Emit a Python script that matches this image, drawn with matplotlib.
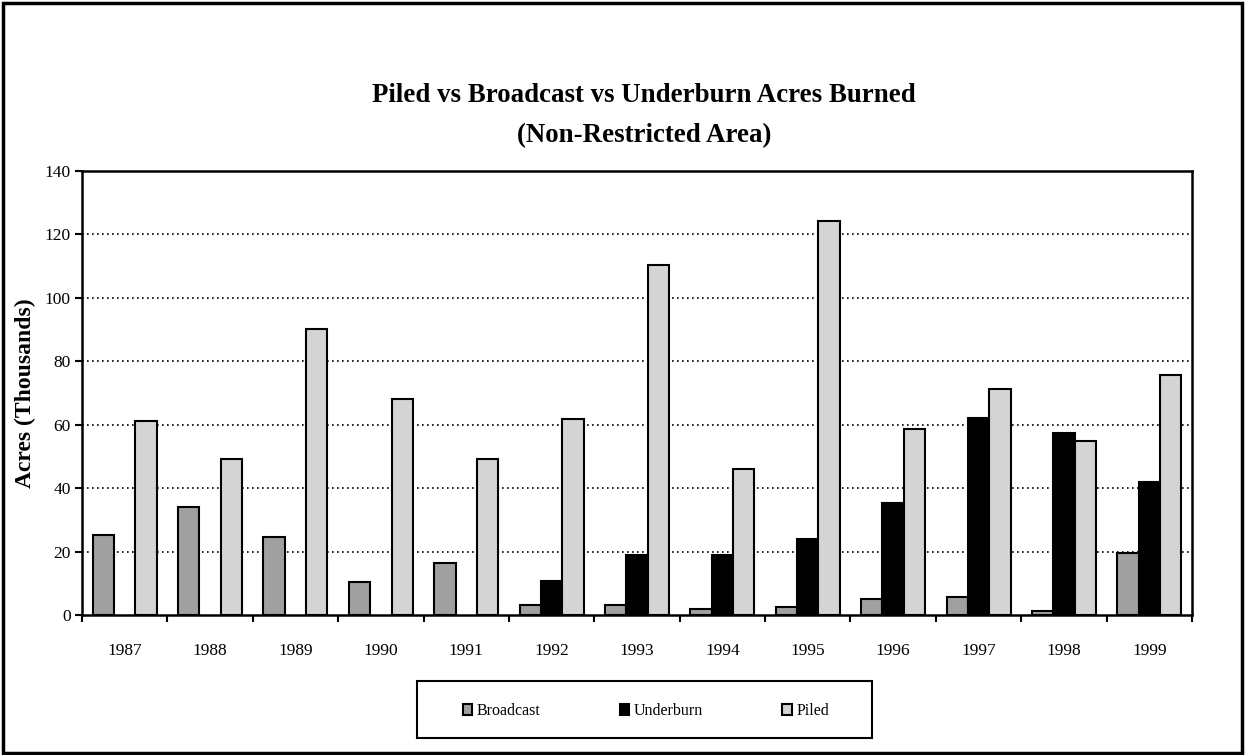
import matplotlib
matplotlib.use("Agg")
import matplotlib.pyplot as plt
import numpy as np
from matplotlib.patches import Rectangle

years = ["1987", "1988", "1989", "1990", "1991", "1992", "1993",
         "1994", "1995", "1996", "1997", "1998", "1999"]
broadcast = [25.1, 34.0, 24.5, 10.5, 16.3, 3.2, 3.2, 1.9, 2.5, 4.9, 5.6, 1.2, 19.5]
underburn = [0, 0, 0, 0, 0, 10.7, 19.0, 19.0, 24.1, 35.4, 62.0, 57.4, 41.8]
piled = [61.1, 49.1, 90.1, 68.1, 49.1, 61.8, 110.3, 46.0, 124.2, 58.7, 71.2, 54.8, 75.6]

series = [
    ("Broadcast", broadcast, "#a0a0a0"),
    ("Underburn", underburn, "#000000"),
    ("Piled", piled, "#d4d4d4"),
]

plt.rcParams["font.family"] = ["Liberation Serif", "DejaVu Serif"]

W, H = 1245, 755
fig = plt.figure(figsize=(W / 100, H / 100), dpi=100)
ax = fig.add_axes([82 / W, 1 - 615 / H, (1192 - 82) / W, (615 - 171) / H])

x = np.arange(len(years))
width = 0.25
for i, (name, vals, color) in enumerate(series):
    vals = np.array(vals, dtype=float)
    # skip zero bars so they don't leave an outline on the axis
    mask = vals > 0
    ax.bar(x[mask] + (i - 1) * width, vals[mask], width, color=color,
           edgecolor="black", linewidth=1.5, label=name, zorder=3)

ax.set_xlim(-0.5, len(years) - 0.5)
ax.set_ylim(0, 140)
ax.set_yticks(np.arange(0, 141, 20))
ax.tick_params(axis="y", direction="out", length=5, width=1.5, labelsize=12.5, pad=3)

# ticks between categories, labels centered
ax.set_xticks(np.arange(-0.5, len(years), 1))
ax.set_xticklabels([])
ax.set_xticks(x, minor=True)
ax.set_xticklabels(years, minor=True, fontsize=12.5)
ax.tick_params(axis="x", which="major", direction="out", length=5, width=1.5)
ax.tick_params(axis="x", which="minor", length=0, pad=20)

for y in range(20, 140, 20):
    ax.axhline(y, color="black", linestyle=(0, (1, 2)), linewidth=1.2, zorder=1)

for s in ax.spines.values():
    s.set_linewidth(1.8)
    s.set_color("black")

ax.set_ylabel("Acres (Thousands)", fontsize=17, fontweight="bold", labelpad=6)

fig.text(644 / W, 1 - 95 / H, "Piled vs Broadcast vs Underburn Acres Burned",
         ha="center", va="center", fontsize=19.4, fontweight="bold")
fig.text(644 / W, 1 - 136 / H, "(Non-Restricted Area)",
         ha="center", va="center", fontsize=19.4, fontweight="bold")

leg = ax.legend(loc="center", bbox_to_anchor=(646 / W, 1 - 711 / H),
                bbox_transform=fig.transFigure, ncol=3, frameon=False,
                fontsize=11.5, handlelength=0.6, handleheight=0.7,
                handletextpad=0.3, columnspacing=4.95)
# legend box drawn separately so it can be wider than the entries
fig.add_artist(Rectangle((417 / W, 1 - 738 / H), (872 - 417) / W, 57 / H,
                         transform=fig.transFigure, fill=False,
                         edgecolor="black", linewidth=1.5))

fig.add_artist(Rectangle((3 / W, 2 / H), 1 - 6 / W, 1 - 5 / H,
                         transform=fig.transFigure, fill=False,
                         edgecolor="black", linewidth=2.5))

fig.savefig("out.png", dpi=100)
